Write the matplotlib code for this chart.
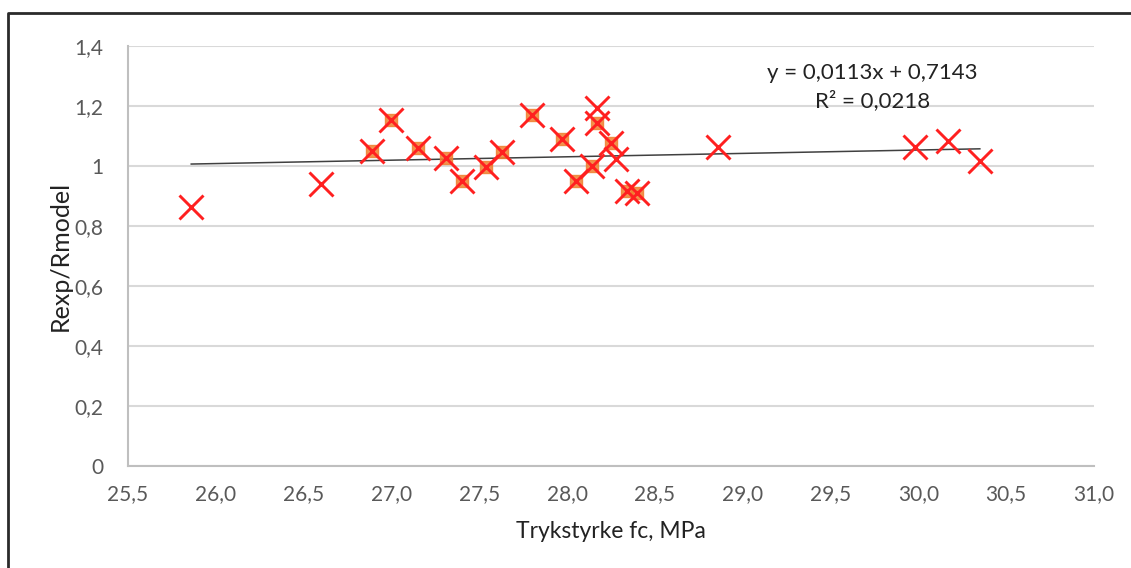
import matplotlib
matplotlib.use("Agg")
import matplotlib.pyplot as plt
from matplotlib.lines import Line2D
from matplotlib.ticker import FuncFormatter

# points with orange centre (overlapping markers in the original)
fc_a = [26.89, 27.00, 27.15, 27.31, 27.40, 27.54, 27.63, 27.80, 27.97,
        28.05, 28.14, 28.17, 28.25, 28.34, 28.40]
ratio_a = [1.05, 1.155, 1.06, 1.027, 0.95, 0.997, 1.047, 1.17, 1.09,
           0.95, 1.0, 1.143, 1.077, 0.917, 0.91]

# plain markers
fc_b = [25.86, 26.60, 28.17, 28.28, 28.86, 29.98, 30.17, 30.35]
ratio_b = [0.863, 0.94, 1.195, 1.022, 1.062, 1.062, 1.085, 1.017]

slope = 0.0113
intercept = 0.7143
eq_text = "y = 0,0113x + 0,7143\nR² = 0,0218"

x_ticks = [25.5, 26.0, 26.5, 27.0, 27.5, 28.0, 28.5, 29.0, 29.5, 30.0, 30.5, 31.0]
y_ticks = [0, 0.2, 0.4, 0.6, 0.8, 1.0, 1.2, 1.4]

plt.rcParams["font.family"] = ["Lato", "DejaVu Sans"]

fig = plt.figure(figsize=(11.31, 5.68), dpi=100)
ax = fig.add_axes([128 / 1131, 1 - 466 / 568, (1094 - 128) / 1131, (466 - 46) / 568])

ax.set_xlim(25.5, 31.0)
ax.set_ylim(0, 1.4)
ax.set_xticks(x_ticks)
ax.set_yticks(y_ticks)
ax.xaxis.set_major_formatter(FuncFormatter(lambda v, p: f"{v:.1f}".replace(".", ",")))
ax.yaxis.set_major_formatter(FuncFormatter(lambda v, p: f"{v:g}".replace(".", ",")))
ax.tick_params(length=0, labelsize=15, colors="#595959")
ax.tick_params(axis="x", pad=13)
ax.tick_params(axis="y", pad=18)
ax.grid(axis="y", color="#d9d9d9", linewidth=1.5)
ax.set_axisbelow(True)
for s in ["top", "right"]:
    ax.spines[s].set_visible(False)
for s in ["left", "bottom"]:
    ax.spines[s].set_color("#bfbfbf")
    ax.spines[s].set_linewidth(1.5)

# trend line over the data range
all_fc = fc_a + fc_b
x0, x1 = min(all_fc), max(all_fc)
ax.plot([x0, x1], [slope * x0 + intercept, slope * x1 + intercept],
        color="#404040", linewidth=1.1, zorder=2)

ax.plot(fc_a, ratio_a, linestyle="none", marker="s", markersize=8,
        color="#f08030", alpha=0.85, zorder=3)
ax.plot(fc_a + fc_b, ratio_a + ratio_b, linestyle="none", marker="x",
        markersize=17, markeredgewidth=2.1, color="#ff2020", zorder=4)

ax.text(29.74, 1.263, eq_text, ha="center", va="center", fontsize=16,
        color="#222222", linespacing=1.4)

ax.set_xlabel("Trykstyrke fc, MPa", fontsize=16.5, color="#222222", labelpad=12)
ax.set_ylabel("Rexp/Rmodel", fontsize=18, color="#222222")
ax.yaxis.set_label_coords(-0.058, 0.5)

# outer frame (left and top edges only visible)
fig.add_artist(Line2D([8 / 1131, 8 / 1131, 1.0], [0.0, 1 - 13 / 568, 1 - 13 / 568],
                      transform=fig.transFigure, color="#2a2a2a", linewidth=2))

fig.savefig("out.png", dpi=100)
